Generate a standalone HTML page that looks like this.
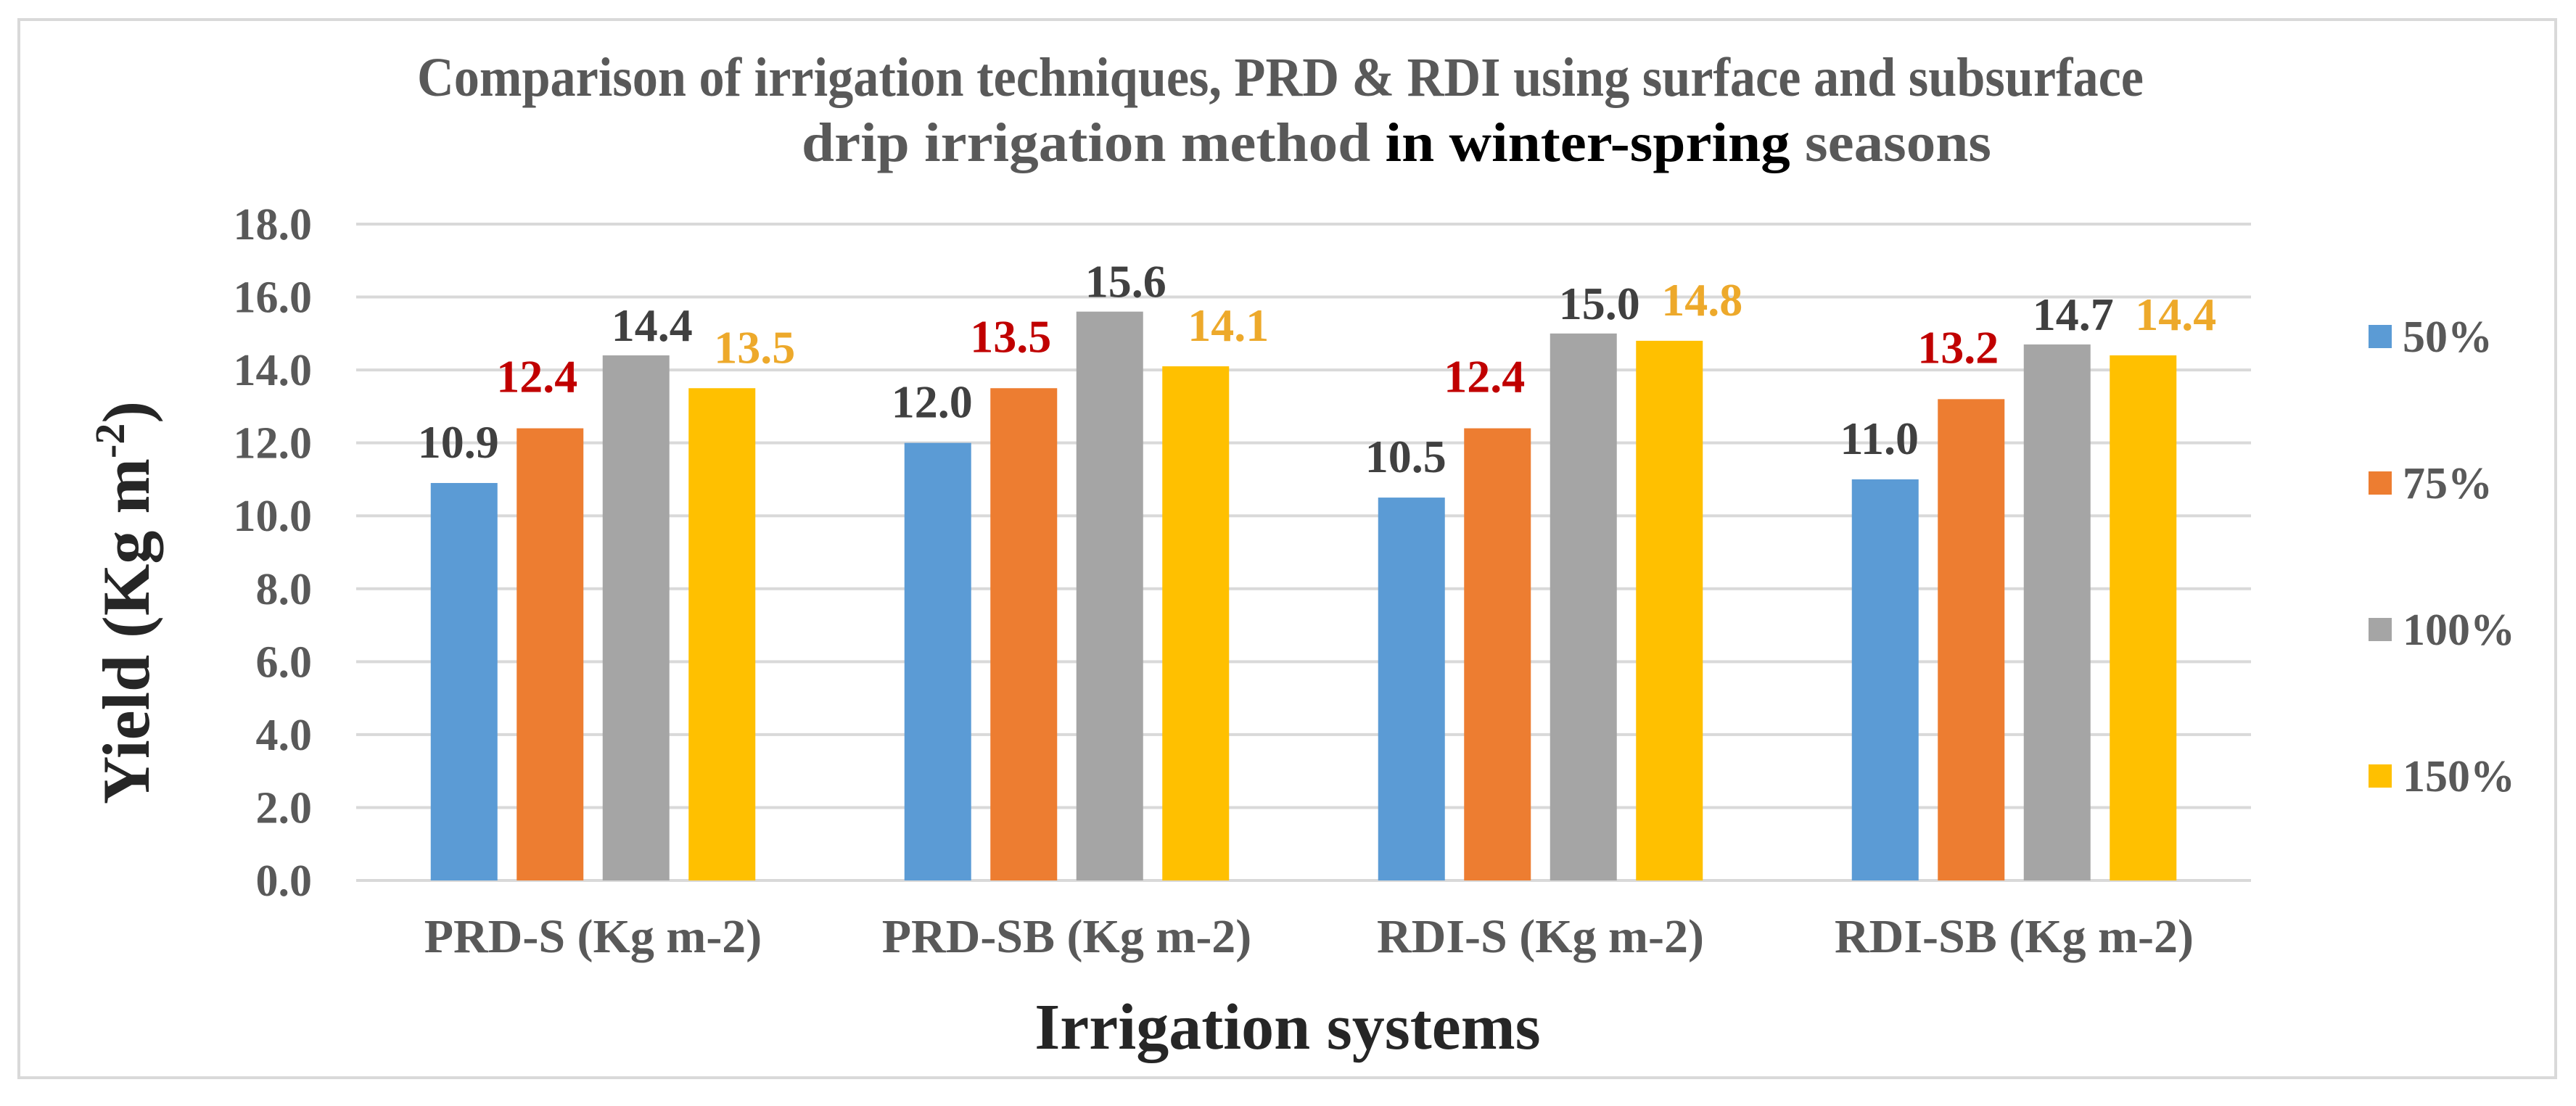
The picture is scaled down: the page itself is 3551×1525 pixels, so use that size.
<!DOCTYPE html>
<html><head><meta charset="utf-8"><style>
html,body{margin:0;padding:0;background:#fff;}
svg{display:block;font-family:"Liberation Serif",serif;font-weight:bold;}
</style></head><body>
<svg id="chart" width="3551" height="1525" viewBox="0 0 3551 1525" xmlns="http://www.w3.org/2000/svg">
<rect x="26" y="27" width="3497" height="1459" fill="#fff" stroke="#D9D9D9" stroke-width="4"/>
<text x="575" y="132" font-size="76" fill="#595959" textLength="2380" lengthAdjust="spacingAndGlyphs">Comparison of irrigation techniques, PRD &amp; RDI using surface and subsurface</text>
<text x="1105" y="222" font-size="76" fill="#595959" textLength="1640" lengthAdjust="spacingAndGlyphs">drip irrigation method <tspan fill="#000">in winter-spring</tspan> seasons</text>
<g id="grid"></g><g id="bars"></g><g id="labels"></g><g id="legend"></g>
<text transform="translate(205,831) rotate(-90)" text-anchor="middle" font-size="92" fill="#262626">Yield (Kg m<tspan font-size="58" dy="-34">-2</tspan><tspan dy="34">)</tspan></text>
<text x="1775" y="1446" text-anchor="middle" font-size="90" fill="#262626">Irrigation systems</text>
</svg>
<script>
const categories = ["PRD-S (Kg m-2)", "PRD-SB (Kg m-2)", "RDI-S (Kg m-2)", "RDI-SB (Kg m-2)"];
const seriesNames = ["50%", "75%", "100%", "150%"];
const s50 = [10.9, 12.0, 10.5, 11.0];
const s75 = [12.4, 13.5, 12.4, 13.2];
const s100 = [14.4, 15.6, 15.0, 14.7];
const s150 = [13.5, 14.1, 14.8, 14.4];
const yTicks = [0, 2, 4, 6, 8, 10, 12, 14, 16, 18];

const NS = "http://www.w3.org/2000/svg";
const series = [s50, s75, s100, s150];
const colors = ["#5B9BD5", "#ED7D31", "#A5A5A5", "#FFC000"];
const labelColors = ["#404040", "#C00000", "#404040", "#EDA92B"];
const labelGap = [35, 50, 20, 35];
const labelDx = [-8, -18, 22, 45];
const X0 = 491, X1 = 3103, Y0 = 1214, Y1 = 309, YMAX = 18;
const y = v => Y0 - (v / YMAX) * (Y0 - Y1);
const band = (X1 - X0) / categories.length;
const barW = 92, step = 118.5;
const barX = (ci, si) => X0 + band * ci + band / 2 + (si - 1.5) * step - barW / 2;
function mk(tag, attrs, parent, text) {
  const e = document.createElementNS(NS, tag);
  for (const k in attrs) e.setAttribute(k, attrs[k]);
  if (text !== undefined) e.textContent = text;
  parent.appendChild(e); return e;
}
const grid = document.getElementById("grid");
yTicks.forEach(t => {
  const l = mk("line", {x1: X0, x2: X1, y1: y(t), y2: y(t), stroke: "#D9D9D9", "stroke-width": 4}, grid);
  
  
  const tx = mk("text", {x: 430, y: y(t) + 21, "text-anchor": "end", "font-size": 62, fill: "#595959"}, grid, t.toFixed(1));
  
  
});
const bars = document.getElementById("bars"), labels = document.getElementById("labels");
categories.forEach((c, ci) => {
  series.forEach((s, si) => {
    const bx = barX(ci, si);
    const r = mk("rect", {x: bx, y: y(s[ci]), width: barW, height: Y0 - y(s[ci]), fill: colors[si]}, bars);
    
    
    const t = mk("text", {x: bx + barW / 2 + labelDx[si], y: y(s[ci]) - labelGap[si], "text-anchor": "middle", "font-size": 64, fill: labelColors[si]}, labels, s[ci].toFixed(1));
    
    
  });
  const cl = mk("text", {x: X0 + band * ci + band / 2, y: 1313, "text-anchor": "middle", "font-size": 66, fill: "#595959"}, labels, c);
  
  
});
const legend = document.getElementById("legend");
seriesNames.forEach((n, i) => {
  const cy = 464 + i * 202;
  const sw = mk("rect", {x: 3265, y: cy - 16, width: 32, height: 32, fill: colors[i]}, legend);
  
  
  const lt = mk("text", {x: 3312, y: cy + 21, "font-size": 62, fill: "#595959"}, legend, n);
  
  
});
</script>
</body></html>
